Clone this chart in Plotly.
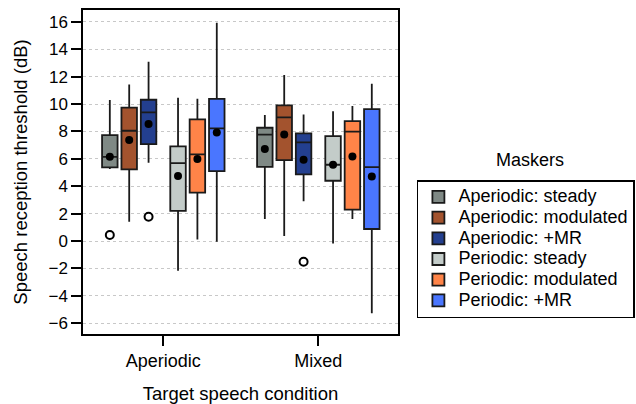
import plotly.graph_objects as go

# ---- data ----
conditions = ["Aperiodic", "Mixed"]
maskers = ["Aperiodic: steady", "Aperiodic: modulated", "Aperiodic: +MR",
           "Periodic: steady", "Periodic: modulated", "Periodic: +MR"]

# each list: [Aperiodic target, Mixed target]
lower_whisker = {
    "Aperiodic: steady":    [5.25, 1.61],
    "Aperiodic: modulated": [1.41, 0.37],
    "Aperiodic: +MR":       [5.72, 2.90],
    "Periodic: steady":     [-2.16, -0.17],
    "Periodic: modulated":  [0.12, 1.61],
    "Periodic: +MR":        [-0.05, -5.27],
}
q1 = {
    "Aperiodic: steady":    [5.38, 5.42],
    "Aperiodic: modulated": [5.23, 5.91],
    "Aperiodic: +MR":       [7.08, 4.86],
    "Periodic: steady":     [2.21, 4.40],
    "Periodic: modulated":  [3.53, 2.29],
    "Periodic: +MR":        [5.11, 0.88],
}
median = {
    "Aperiodic: steady":    [6.15, 7.76],
    "Aperiodic: modulated": [8.05, 9.02],
    "Aperiodic: +MR":       [9.39, 7.20],
    "Periodic: steady":     [5.69, 5.57],
    "Periodic: modulated":  [6.32, 7.98],
    "Periodic: +MR":        [8.22, 5.40],
}
q3 = {
    "Aperiodic: steady":    [7.73, 8.27],
    "Aperiodic: modulated": [9.73, 9.90],
    "Aperiodic: +MR":       [10.31, 7.86],
    "Periodic: steady":     [6.91, 7.66],
    "Periodic: modulated":  [8.88, 8.75],
    "Periodic: +MR":        [10.38, 9.63],
}
upper_whisker = {
    "Aperiodic: steady":    [10.29, 9.19],
    "Aperiodic: modulated": [11.43, 12.11],
    "Aperiodic: +MR":       [13.08, 9.24],
    "Periodic: steady":     [10.46, 9.48],
    "Periodic: modulated":  [10.38, 9.85],
    "Periodic: +MR":        [15.93, 11.48],
}
means = {
    "Aperiodic: steady":    [6.15, 6.71],
    "Aperiodic: modulated": [7.37, 7.78],
    "Aperiodic: +MR":       [8.54, 5.93],
    "Periodic: steady":     [4.74, 5.57],
    "Periodic: modulated":  [5.98, 6.18],
    "Periodic: +MR":        [7.93, 4.72],
}
# outliers: list of (condition, value)
outliers = {
    "Aperiodic: steady":    [("Aperiodic", 0.44)],
    "Aperiodic: modulated": [],
    "Aperiodic: +MR":       [("Aperiodic", 1.78), ("Mixed", -1.51)],
    "Periodic: steady":     [],
    "Periodic: modulated":  [],
    "Periodic: +MR":        [],
}
y_ticks = [-6, -4, -2, 0, 2, 4, 6, 8, 10, 12, 14, 16]

# ---- style ----
colors = ["#7f8985", "#a3532e", "#233f8f", "#c3ccc9", "#ff8448", "#4a76ff"]
offsets = [-0.345, -0.22, -0.095, 0.095, 0.22, 0.345]   # dodge within a condition
FONT = "Liberation Sans, Arial, sans-serif"

fig = go.Figure()
for i, m in enumerate(maskers):
    xs = [ci + offsets[i] for ci in range(len(conditions))]
    fig.add_trace(go.Box(
        name=f'<span style="font-size:18px">{m}</span>', x=xs,
        lowerfence=lower_whisker[m], q1=q1[m], median=median[m],
        q3=q3[m], upperfence=upper_whisker[m],
        width=0.1, whiskerwidth=0,
        fillcolor=colors[i], line=dict(color="#1a1a1a", width=1.8),
        boxpoints=False, showlegend=True, hoverinfo="skip",
    ))
    fig.add_trace(go.Scatter(
        x=xs, y=means[m], mode="markers",
        marker=dict(color="black", size=8),
        showlegend=False, hoverinfo="skip",
    ))
    if outliers[m]:
        fig.add_trace(go.Scatter(
            x=[conditions.index(c) + offsets[i] for c, _ in outliers[m]],
            y=[v for _, v in outliers[m]], mode="markers",
            marker=dict(color="white", size=8, symbol="circle",
                        line=dict(color="black", width=2)),
            showlegend=False, hoverinfo="skip",
        ))

fig.update_layout(
    width=636, height=404,
    margin=dict(l=83, r=238, t=10, b=70, autoexpand=False),
    plot_bgcolor="white", paper_bgcolor="white",
    font=dict(family=FONT, size=18, color="black"),
    showlegend=True,
    legend=dict(x=1.06, y=0.475, xanchor="left", yanchor="top",
                bordercolor="black", borderwidth=1.5,
                font=dict(size=13.6), bgcolor="white",
                traceorder="normal"),
    annotations=[dict(text="Maskers", x=1.42, y=0.537, xref="paper", yref="paper",
                      showarrow=False, xanchor="center", yanchor="middle",
                      font=dict(size=18))],
)
fig.update_xaxes(
    range=[-0.518, 1.514], tickvals=list(range(len(conditions))), ticktext=conditions,
    showline=True, linecolor="black", linewidth=1.5, mirror=True,
    ticks="outside", ticklen=10, tickwidth=1.5, tickcolor="black",
    showgrid=False, zeroline=False,
    title=dict(text="Target speech condition", font=dict(size=18.5), standoff=17),
    tickfont=dict(size=18),
)
fig.update_yaxes(
    range=[-6.78, 16.86], tickvals=y_ticks,
    showline=True, linecolor="black", linewidth=1.5, mirror=True,
    ticks="outside", ticklen=10, tickwidth=1.5, tickcolor="black",
    showgrid=True, gridcolor="#c8c8c8", griddash="dot", gridwidth=1,
    zeroline=False,
    title=dict(text="Speech reception threshold (dB)", font=dict(size=18.5), standoff=16),
    tickfont=dict(size=17),
)

fig.write_html("out.html", config={"displayModeBar": False},
               post_script="document.body.style.margin='0';")
